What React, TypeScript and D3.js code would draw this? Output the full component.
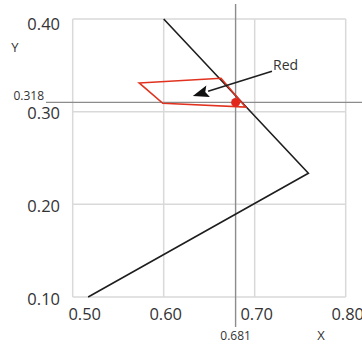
import React from "react";
import * as d3 from "d3";

const xTicks = [0.5, 0.6, 0.7, 0.8];
const yTicks = [0.1, 0.2, 0.3, 0.4];
const xTickLabels = ["0.50", "0.60", "0.70", "0.80"];
const yTickLabels = ["0.10", "0.20", "0.30", "0.40"];
const blackX = [0.517, 0.759, 0.6];
const blackY = [0.1, 0.2335, 0.4];
const redX = [0.573, 0.663, 0.69, 0.599];
const redY = [0.331, 0.336, 0.305, 0.309];
const pointX = 0.679;
const pointY = 0.31;
const pointXLabel = "0.681";
const pointYLabel = "0.318";
const arrowFrom = [0.719, 0.3435];
const arrowTo = [0.632, 0.317];
const annotation = "Red";

const W = 362;
const H = 344;
const FONT = "'Open Sans', 'Noto Sans', sans-serif";

export default function App() {
  const x = d3.scaleLinear().domain([0.5, 0.8]).range([72.7, 345.7]);
  const y = d3.scaleLinear().domain([0.1, 0.4]).range([297, 19]);
  const line = d3.line<[number, number]>().x((d) => x(d[0])).y((d) => y(d[1]));
  const blackPts: [number, number][] = blackX.map((v, i) => [v, blackY[i]]);
  const redPts: [number, number][] = redX.map((v, i) => [v, redY[i]]);

  const ax1 = x(arrowFrom[0]);
  const ay1 = y(arrowFrom[1]);
  const ax2 = x(arrowTo[0]);
  const ay2 = y(arrowTo[1]);
  const ang = Math.atan2(ay2 - ay1, ax2 - ax1);
  const hl = 16;
  const hw = 6;
  const bx = ax2 - hl * Math.cos(ang);
  const by = ay2 - hl * Math.sin(ang);
  const head = [
    [ax2, ay2],
    [bx + hw * Math.sin(ang), by - hw * Math.cos(ang)],
    [bx + 3 * Math.cos(ang), by + 3 * Math.sin(ang)],
    [bx - hw * Math.sin(ang), by + hw * Math.cos(ang)],
  ]
    .map((p) => p.join(","))
    .join(" ");

  const gridColor = "#d9d9d9";
  const crossColor = "#8c8c8c";

  return (
    <svg
      width={W}
      height={H}
      style={{ position: "absolute", left: 0, top: 0, background: "#fff" }}
    >
      {xTicks.map((t) => (
        <line key={"gx" + t} x1={x(t)} x2={x(t)} y1={y(0.4)} y2={y(0.1)} stroke={gridColor} strokeWidth={1.5} />
      ))}
      {yTicks.map((t) => (
        <line key={"gy" + t} x1={x(0.5)} x2={x(0.8)} y1={y(t)} y2={y(t)} stroke={gridColor} strokeWidth={1.5} />
      ))}
      <line x1={x(pointX)} x2={x(pointX)} y1={4} y2={327} stroke={crossColor} strokeWidth={1.4} />
      <line x1={46} x2={W} y1={y(pointY)} y2={y(pointY)} stroke={crossColor} strokeWidth={1.4} />
      <path d={line(blackPts) || ""} fill="none" stroke="#1e1e1e" strokeWidth={1.6} />
      <path d={(line(redPts) || "") + "Z"} fill="none" stroke="#e0321e" strokeWidth={1.6} />
      <circle cx={x(pointX)} cy={y(pointY)} r={4.5} fill="#e3261b" />
      <line x1={ax1} y1={ay1} x2={bx} y2={by} stroke="#1e1e1e" strokeWidth={1.6} />
      <polygon points={head} fill="#111" />
      <text x={x(arrowFrom[0]) + 1} y={y(arrowFrom[1]) - 1} fontFamily={FONT} fontSize={14} fill="#333">
        {annotation}
      </text>
      {xTicks.map((t, i) => (
        <text
          key={"xl" + t}
          x={x(t) + (i === 0 ? 12 : 2)}
          y={320}
          textAnchor="middle"
          fontFamily={FONT}
          fontSize={16.5}
          fill="#333"
        >
          {xTickLabels[i]}
        </text>
      ))}
      {yTicks.map((t, i) => (
        <text
          key={"yl" + t}
          x={60}
          y={y(t) + (t === 0.4 ? 4 : 1)}
          textAnchor="end"
          dominantBaseline="central"
          fontFamily={FONT}
          fontSize={16.5}
          fill="#333"
        >
          {yTickLabels[i]}
        </text>
      ))}
      <text x={44} y={y(pointY) - 2} textAnchor="end" fontFamily={FONT} fontSize={12} fill="#333">
        {pointYLabel}
      </text>
      <text x={x(pointX)} y={340} textAnchor="middle" fontFamily={FONT} fontSize={12} fill="#333">
        {pointXLabel}
      </text>
      <text x={321} y={340} textAnchor="middle" fontFamily={FONT} fontSize={13} fill="#333">
        X
      </text>
      <text x={15} y={52} textAnchor="middle" fontFamily={FONT} fontSize={13} fill="#333">
        Y
      </text>
    </svg>
  );
}
